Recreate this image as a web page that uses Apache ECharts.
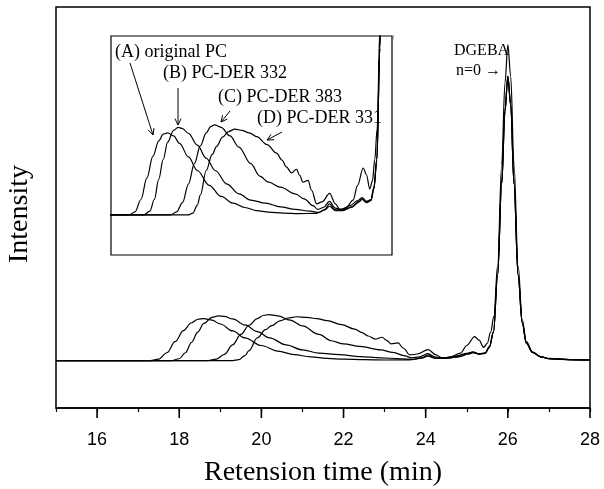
<!DOCTYPE html>
<html>
<head>
<meta charset="utf-8">
<script src="https://cdn.jsdelivr.net/npm/echarts@6/dist/echarts.min.js"></script>
<style>
  html, body { margin: 0; padding: 0; background: #fff; }
  #chart { width: 604px; height: 489px; }
</style>
</head>
<body>
<div id="chart"></div>
<script>
// tick labels on the time axis
var majorTicks = [16, 18, 20, 22, 24, 26, 28];

// GPC traces, [retention time (min), intensity]
var curveA = [ // (A) original PC
  [15, 0], [17.3, 0], [17.5, 0.5], [17.7, 2.5], [17.9, 6.0], [18.1, 9.5], [18.3, 12.0], [18.45, 13.1],
  [18.6, 13.3], [18.8, 12.8], [19.0, 11.6], [19.3, 9.4], [19.6, 7.2], [20.0, 4.8], [20.4, 3.0],
  [20.8, 1.9], [21.2, 1.2], [21.6, 0.7], [22.0, 0.45], [22.5, 0.3], [23.0, 0.2], [23.6, 0.25],
  [23.9, 0.8], [24.05, 1.4], [24.25, 0.7], [24.5, 0.7], [24.8, 1.2], [25.05, 2.1], [25.15, 2.5],
  [25.3, 2.0], [25.45, 2.3], [25.55, 4.2], [25.65, 9], [25.75, 27], [25.85, 56], [25.93, 79],
  [26.0, 90], [26.07, 81], [26.15, 56], [26.25, 27], [26.35, 12], [26.45, 5.5], [26.6, 2.6],
  [26.8, 1.2], [27.0, 0.6], [27.5, 0.3], [28, 0.2]
];
var curveB = [ // (B) PC-DER 332
  [15, 0], [17.8, 0], [18.0, 0.6], [18.15, 2.5], [18.3, 5.8], [18.45, 9.0], [18.6, 11.8], [18.8, 13.7],
  [18.95, 14.2], [19.1, 14.0], [19.3, 13.2], [19.6, 11.3], [19.9, 9.2], [20.2, 7.2], [20.6, 5.0],
  [21.0, 3.4], [21.4, 2.4], [21.9, 1.9], [22.4, 1.3], [22.9, 0.9], [23.4, 0.6], [23.7, 0.4],
  [23.9, 0.9], [24.05, 1.8], [24.25, 0.8], [24.5, 0.8], [24.8, 1.3], [25.05, 2.2], [25.15, 2.6],
  [25.3, 2.1], [25.45, 2.4], [25.55, 4.3], [25.65, 9], [25.75, 27], [25.85, 56], [25.93, 79],
  [26.0, 90], [26.07, 81], [26.15, 56], [26.25, 27], [26.35, 12], [26.45, 5.5], [26.6, 2.6],
  [26.8, 1.2], [27.0, 0.6], [27.5, 0.3], [28, 0.2]
];
var curveC = [ // (C) PC-DER 383
  [15, 0], [18.7, 0], [18.9, 0.5], [19.1, 2.0], [19.3, 5.0], [19.5, 8.3], [19.7, 11.2], [19.9, 13.3],
  [20.05, 14.3], [20.18, 14.6], [20.4, 14.2], [20.7, 12.8], [21.0, 11.0], [21.4, 8.3], [21.7, 6.3],
  [22.0, 5.3], [22.4, 4.5], [22.9, 3.4], [23.2, 2.6], [23.5, 1.5], [23.65, 0.9], [23.85, 1.2],
  [24.05, 2.2], [24.25, 1.1], [24.45, 0.9], [24.75, 1.5], [25.0, 2.3], [25.15, 2.8], [25.3, 2.2],
  [25.45, 2.5], [25.55, 4.5], [25.65, 9], [25.75, 27], [25.85, 56], [25.93, 79], [26.0, 90],
  [26.07, 81], [26.15, 56], [26.25, 27], [26.35, 12], [26.45, 5.5], [26.6, 2.6], [26.8, 1.2],
  [27.0, 0.6], [27.5, 0.3], [28, 0.2]
];
var curveD = [ // (D) PC-DER 331
  [15, 0], [19.3, 0], [19.45, 0.3], [19.6, 1.6], [19.7, 3.2], [19.9, 7.2], [20.1, 9.8], [20.25, 11.1],
  [20.45, 12.6], [20.65, 13.5], [20.86, 13.9], [21.1, 13.7], [21.35, 13.3], [21.6, 12.7], [21.95, 11.4],
  [22.27, 10.0], [22.45, 8.9], [22.6, 7.8], [22.77, 6.8], [22.94, 7.4], [23.05, 6.4], [23.16, 5.3],
  [23.33, 5.6], [23.45, 4.0], [23.62, 1.8], [23.8, 2.1], [24.06, 3.5], [24.25, 1.8], [24.4, 0.9],
  [24.6, 1.1], [24.85, 2.4], [25.0, 4.8], [25.19, 7.6], [25.3, 6.5], [25.41, 4.2], [25.5, 5.5],
  [25.58, 9], [25.66, 14], [25.75, 30], [25.85, 62], [25.93, 88], [26.0, 100], [26.07, 90],
  [26.15, 62], [26.25, 30], [26.35, 13], [26.45, 6], [26.6, 2.8], [26.8, 1.3], [27.0, 0.7],
  [27.5, 0.3], [28, 0.2]
];

var curves = [curveA, curveB, curveC, curveD];

var serif = 'Liberation Serif';
var sans = 'Liberation Sans';

// main plot box (px)
var plot = { left: 56, right: 590, top: 7, bottom: 408 };

// small open arrow for the annotations
function arrow(x1, y1, x2, y2) {
  var a = Math.atan2(y2 - y1, x2 - x1), h = 7, w = 0.45;
  return [
    { type: 'line', shape: { x1: x1, y1: y1, x2: x2, y2: y2 }, style: { stroke: '#000', lineWidth: 1 } },
    { type: 'polyline', shape: { points: [
      [x2 - h * Math.cos(a - w), y2 - h * Math.sin(a - w)], [x2, y2],
      [x2 - h * Math.cos(a + w), y2 - h * Math.sin(a + w)]
    ] }, style: { stroke: '#000', lineWidth: 1, fill: null } }
  ];
}

function label(text, x, y, size) {
  return { type: 'text', x: x, y: y, style: {
    text: text, font: size + 'px "' + serif + '"', fill: '#000', verticalAlign: 'middle'
  } };
}

// longer ticks at the labelled minutes
function majorTick(v) {
  var x = plot.left + (v - 15) * (plot.right - plot.left) / 13;
  return { type: 'line', shape: { x1: x, y1: plot.bottom, x2: x, y2: plot.bottom + 10 },
    style: { stroke: '#000', lineWidth: 1.6 } };
}

var graphics = [
  label('(A) original PC', 115, 52, 18),
  label('(B) PC-DER 332', 163, 73, 18),
  label('(C) PC-DER 383', 218, 97, 18),
  label('(D) PC-DER 331', 257, 118, 18),
  label('DGEBA', 454, 51, 16),
  label('n=0 \u2192', 456, 71, 16),
  { type: 'text', x: 20, y: 214, rotation: Math.PI / 2, style: {
    text: 'Intensity', font: '28px "' + serif + '"', fill: '#000', align: 'center', verticalAlign: 'middle'
  } }
].concat(arrow(130, 63, 153, 135), arrow(178, 88, 178, 125), arrow(230, 111, 221, 122), arrow(282, 132, 267, 140),
  majorTicks.map(majorTick));

var series = [];
curves.forEach(function (c) {
  [0, 1].forEach(function (g) {
    series.push({
      type: 'line', xAxisIndex: g === 0 ? 0 : 2, yAxisIndex: g, data: c,
      smooth: 0.35, smoothMonotone: 'x', showSymbol: false, clip: true,
      lineStyle: { color: '#000', width: 1.2 }, silent: true
    });
  });
});

var chart = echarts.init(document.getElementById('chart'));
chart.setOption({
  animation: false,
  backgroundColor: '#fff',
  grid: [
    { left: plot.left, right: 604 - plot.right, top: plot.top, bottom: 489 - plot.bottom,
      outerBoundsMode: 'none', containLabel: false, show: true, borderColor: '#000', borderWidth: 1.5 },
    { left: 111, top: 36, width: 281, height: 219, outerBoundsMode: 'none', containLabel: false,
      show: true, borderColor: '#000', borderWidth: 1.2, backgroundColor: '#fff' }
  ],
  xAxis: [
    {
      type: 'value', gridIndex: 0, min: 15, max: 28,
      name: 'Retension time (min)', nameLocation: 'middle', nameGap: 51,
      nameTextStyle: { fontFamily: serif, fontSize: 28, color: '#000' },
      axisLine: { show: true, onZero: false, lineStyle: { color: '#000', width: 1.5 } },
      axisTick: { show: false },
      axisLabel: { customValues: majorTicks, fontFamily: sans, fontSize: 18, color: '#000', margin: 23 },
      splitLine: { show: false }
    },
    {
      // minor ticks every minute
      type: 'value', gridIndex: 0, min: 15, max: 28, interval: 1, position: 'bottom',
      axisLine: { show: false, onZero: false },
      axisTick: { show: true, inside: false, length: 4, lineStyle: { color: '#000', width: 1.2 } },
      axisLabel: { show: false }, splitLine: { show: false }
    },
    {
      type: 'value', gridIndex: 1, min: 16.69, max: 26.16,
      axisLine: { show: false, onZero: false }, axisTick: { show: false }, axisLabel: { show: false }, splitLine: { show: false }
    }
  ],
  yAxis: [
    {
      type: 'value', gridIndex: 0, min: -15, max: 112,
      axisLine: { show: false, onZero: false }, axisTick: { show: false }, axisLabel: { show: false }, splitLine: { show: false }
    },
    {
      type: 'value', gridIndex: 1, min: -6.5, max: 29,
      axisLine: { show: false, onZero: false }, axisTick: { show: false }, axisLabel: { show: false }, splitLine: { show: false }
    }
  ],
  graphic: graphics,
  series: series
});
</script>
</body>
</html>
